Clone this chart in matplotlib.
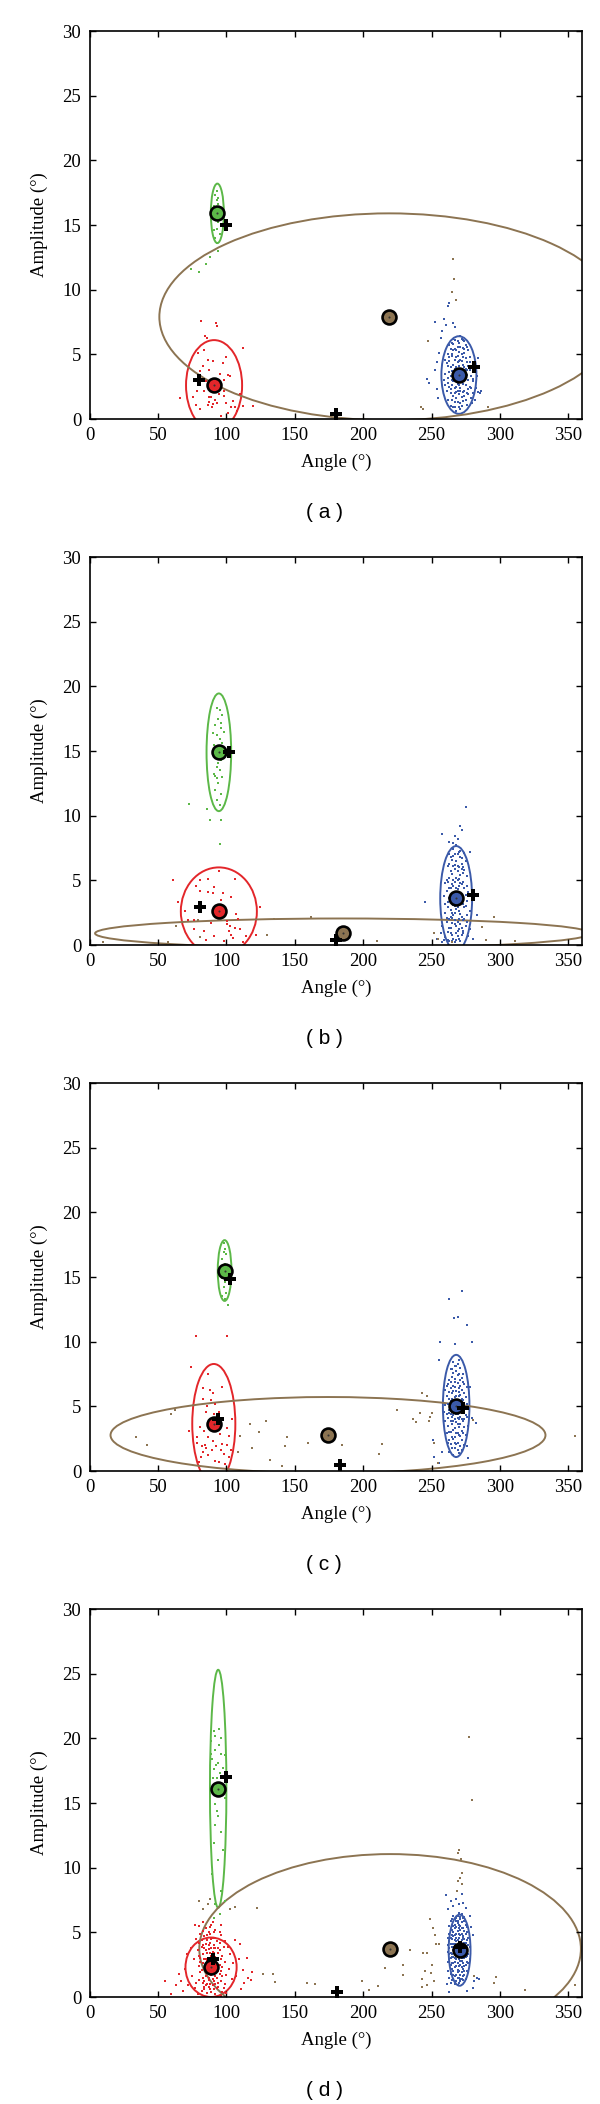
import numpy as np
import matplotlib.pyplot as plt
from matplotlib.patches import Ellipse

plt.rcParams['font.family'] = ['Liberation Serif', 'DejaVu Serif']

RED = '#e3262a'
GREEN = '#5cb848'
BLUE = '#3b5aa9'
BROWN = '#8c7452'
colors = [RED, GREEN, BLUE, BROWN]

# ---------------- panel (a) ----------------
a_centre_ang = [91, 93.4, 270, 219]
a_centre_amp = [2.6, 15.9, 3.4, 7.9]
a_ell_w = [41, 9.5, 25.6, 336]
a_ell_h = [7.0, 4.6, 6.0, 16.0]
a_plus_ang = [80, 100, 180, 281]
a_plus_amp = [3.0, 15.0, 0.4, 4.0]

a_red = [(81.4,7.6),(92.4,7.4),(84.6,6.4),(85.6,6.3),(93.4,7.2),(79,5.1),(112.1,5.5),(86.3,4.6),(90.5,4.5),
         (97.3,4.3),(83.1,4.1),(87.5,3.8),(101.4,3.4),(95.3,3.5),(98.3,3.0),(80.7,3.7),(85.1,2.9),(83.9,2.2),
         (87.1,1.7),(91.9,1.5),(94.6,1.9),(98.5,1.8),(66.1,1.6),(75.4,1.7),(77.8,1.1),(80.7,0.8),(89.3,0.95),
         (93.4,1.2),(103.4,0.9),(106.3,0.95),(112.4,1.0),(119.7,1.0),(101.4,0.45),(108,0.6),(86.3,1.1),(91.7,2.7),
         (78.3,2.2),(88.8,1.7),(95.3,2.35),(98.3,2.2),(87.6,1.3),(99.8,1.25),(104.6,1.4),(90.5,1.15),(95.3,2.8),
         (103,3.3),(100,4.8),(96,0.2),(110,1.9),(84,5.3)]
a_green = [(92,17.3),(93,16.9),(94,17.1),(91,16.5),(95,16.2),(92,15.5),(94,15.2),(93,14.7),(91,14.6),(95,14.3),
           (92,14.0),(94,16.6),(93,17.6),(96,15.0),(90,15.8),(93,13.6),(74.1,11.6),(79.7,11.4),(85.1,12.0),
           (88.3,12.5),(93.9,13.0)]
a_blue = [(270,3.4),(268,2.1),(272,4.5),(265,3.0),(275,2.6),(262,4.1),(278,3.8),(269,5.6),(271,1.2),(266,1.8),
          (274,5.1),(263,2.5),(277,1.9),(268,4.8),(273,3.2),(260,3.5),(280,3.1),(267,6.1),(271,0.8),(264,5.4),
          (276,4.4),(269,2.7),(272,1.7),(266,4.2),(274,6.0),(261,2.2),(279,2.4),(270,5.9),(268,0.6),(265,4.9),
          (275,3.9),(263,3.6),(277,5.3),(267,2.4),(273,1.4),(270,4.1),(262,1.5),(278,4.8),(266,5.8),(272,2.9),
          (269,3.8),(264,1.0),(276,1.1),(271,6.4),(259,3.0),(281,3.6),(268,3.2),(274,2.2),(265,2.6),(270,1.9),
          (267,3.9),(273,4.8),(262,5.0),(279,1.6),(269,4.4),(275,5.7),(263,4.5),(271,2.4),(266,0.9),(277,3.0),
          (268,5.3),(272,6.2),(264,3.3),(276,2.0),(270,2.6),(260,4.6),(280,4.3),(267,1.3),(273,5.5),(265,5.9),
          (252.5,7.5),(259,7.7),(260.6,7.3),(265.5,7.4),(267,7.1),(255.7,5.1),(254.2,4.4),(252.3,3.8),(246.9,3.1),
          (248.4,2.8),(253.7,2.3),(254.7,1.6),(280.5,2.9),(282.5,2.4),(284.2,2.1),(285.4,2.0),(286,2.2),
          (281.8,1.5),(279.4,1.2),(283.2,3.3),(262.2,8.7),(263,9.0),(258,6.8),(284,4.7),(257,6.3)]
a_blue_core = [(269,3.0),(271,3.9),(267,4.6),(273,2.7),(265,3.7),(275,4.7),(268,1.6),(272,5.0),(264,2.3),(276,3.4),
               (270,5.2),(266,2.9),(274,1.8),(262,3.2),(278,2.5),(269,6.0),(271,2.2),(267,0.9),(273,4.2),(265,5.0),
               (277,4.1),(268,3.6),(272,3.5),(263,4.8),(275,1.5),(270,0.9),(266,5.3),(274,3.0),(261,4.3),(279,3.3),
               (269,4.9),(271,5.6),(267,2.0),(273,6.1),(264,4.0),(276,5.6),(268,2.5),(272,1.0),(265,1.5),(270,4.5),
               (262,2.8),(278,4.4),(266,3.4),(274,4.0),(269,1.3),(271,4.6),(267,5.4),(273,2.1),(263,5.7),(277,2.3),
               (270,3.0),(268,4.0),(272,3.9),(264,2.0),(276,3.8),(266,6.2),(274,5.4),(260,2.6),(280,2.0),(269,2.2)]
a_brown = [(266,12.4),(266.5,10.8),(265,9.8),(268,9.2),(247.5,6.0),(243.8,0.75),(291.5,0.9),(242,0.9)]

# ---------------- panel (b) ----------------
b_centre_ang = [94.5, 94.5, 268, 185]
b_centre_amp = [2.6, 14.9, 3.6, 0.9]
b_ell_w = [55.6, 18, 23.3, 362]
b_ell_h = [6.8, 9.1, 8.1, 2.3]
b_plus_ang = [81, 102, 180, 280]
b_plus_amp = [2.9, 14.9, 0.4, 3.9]

b_red = [(61,5.0),(64.4,3.3),(80.7,5.0),(86.3,5.1),(94.8,5.7),(106,5.1),(72.3,1.9),(76.5,1.2),(83.5,1.1),
         (88.6,1.7),(90.6,0.7),(101.8,1.1),(103.2,0.8),(104.6,0.55),(110.2,1.2),(114.5,0.7),(121.5,0.8),
         (124.3,2.9),(80.7,4.2),(90.6,4.5),(97.6,4.0),(103.2,3.7),(83.5,2.9),(92,2.65),(100.5,1.85),(100.5,1.6),
         (102.7,1.5),(106,1.35),(76.5,1.9),(69.4,2.65),(96.2,3.45),(77.9,4.6),(86.3,4.1),(108.8,2.0),(90,4.0),
         (107.4,2.4),(98,0.3),(85,0.4),(112,0.2)]
b_green = [(93,18.3),(95,18.2),(97,17.8),(94,17.5),(92,17.0),(96,16.8),(98,16.5),(93,16.2),(95,15.9),(91,15.5),
           (97,15.6),(94,15.0),(92,14.5),(96,14.3),(93,13.8),(95,13.5),(91,13.2),(97,13.0),(94,12.5),(92,12.0),
           (96,11.7),(93,11.2),(95,10.8),(98,14.8),(90,16.4),(96,17.2),(92,13.1),(94,14.1),(97,15.1),(93,12.9),
           (73,10.9),(86,10.5),(88,9.7),(96,9.7),(95,7.8)]
b_blue = [(268,3.6),(265,2.1),(271,4.8),(262,1.0),(274,2.9),(267,6.2),(270,0.5),(264,4.4),(273,5.6),(260,2.5),
          (276,1.8),(266,3.1),(269,7.0),(263,0.3),(272,1.3),(259,3.8),(277,4.1),(268,5.2),(265,0.8),(271,2.4),
          (261,5.0),(275,6.5),(267,1.6),(270,3.9),(264,6.8),(273,0.9),(262,3.3),(278,2.6),(266,4.6),(269,1.1),
          (263,2.0),(272,5.9),(260,0.6),(276,3.4),(268,2.8),(265,5.5),(271,7.3),(258,1.5),(274,4.4),(267,0.2),
          (270,6.0),(264,2.7),(273,3.7),(261,4.2),(277,0.7),(266,7.4),(269,4.3),(262,6.1),(275,1.5),(268,0.9),
          (263,5.2),(272,2.2),(259,0.4),(276,5.3),(265,3.9),(271,0.3),(267,4.9),(270,2.0),(264,1.3),(274,7.1),
          (260,4.8),(278,1.2),(266,6.1),(269,5.7),(262,2.9),(273,1.9),(257,0.9),(275,3.0),(268,7.7),(265,1.7),
          (271,3.3),(263,7.0),(272,6.7),(267,2.5),(270,4.6),(261,1.8),(276,2.3),(258,0.2),(280,0.5),(264,3.5),
          (275,10.7),(271,9.2),(267,8.4),(258,8.6),(263,8.0),(278,7.2),(266,7.9),(245,3.3),(283,2.3),(254,0.5),
          (272,8.9),(269,8.2)]
b_blue_core = [(267,3.0),(269,4.0),(266,5.0),(270,2.6),(264,3.9),(272,4.7),(268,1.5),(265,6.6),(271,5.4),(263,1.3),
               (273,3.2),(267,7.0),(269,0.7),(266,2.3),(270,5.1),(262,4.9),(274,2.0),(268,4.4),(264,0.9),(272,6.3),
               (265,3.4),(271,1.6),(267,5.9),(269,2.9),(263,3.6),(273,4.9),(266,0.5),(270,7.2),(261,2.1),(275,3.9),
               (268,6.5),(264,5.7),(272,0.8),(267,4.1),(269,6.1),(265,2.5),(271,3.8),(263,6.3),(273,1.1),(266,4.0),
               (270,1.2),(262,0.4),(274,5.8),(268,3.1),(264,2.2),(272,3.4),(267,1.9),(269,5.0),(265,4.7),(271,6.8),
               (260,3.2),(276,4.6),(268,0.4),(266,6.9),(270,3.5),(263,4.4),(273,6.0),(267,3.7),(269,1.8),(265,0.3)]
b_brown = [(10,0.2),(57,0.2),(63,1.5),(79,1.9),(81,0.6),(130,0.8),(135,2.0),(162,2.2),(210,0.3),(252,0.9),
           (255,0.5),(287,1.4),(290,0.4),(296,2.2),(311,0.3),(265,0.2)]

# ---------------- panel (c) ----------------
c_centre_ang = [90.8, 98.7, 268, 174.3]
c_centre_amp = [3.65, 15.5, 5.03, 2.77]
c_ell_w = [31.5, 10, 19.4, 318]
c_ell_h = [9.25, 4.7, 7.9, 5.9]
c_plus_ang = [94, 103, 183, 273]
c_plus_amp = [4.0, 14.85, 0.5, 4.9]

c_red = [(77.8,10.4),(100.5,10.4),(73.9,8.05),(86.3,7.5),(82.7,6.4),(88,6.25),(90,6.0),(96.6,6.5),(88.5,5.5),
         (91.7,5.2),(85.1,4.6),(90.9,4.4),(94.8,4.6),(80.7,3.4),(83.6,3.1),(94.1,3.4),(100.2,3.3),(72.4,3.1),
         (78.3,2.6),(86.3,2.6),(90,2.3),(96.6,2.1),(101.9,2.7),(78.3,2.2),(81.9,1.9),(85.1,1.8),(92.4,1.9),
         (95.9,1.6),(98.3,1.35),(100.2,2.0),(103.2,1.6),(83.1,1.5),(86.8,1.2),(89.2,1.6),(84.4,2.0),(80.2,0.7),
         (81.2,1.1),(91.7,0.8),(94.8,0.7),(99.2,0.55),(101.7,1.1),(95.3,2.85),(104.3,4.0),(88,3.9),(92,3.6),
         (86,5.0),(97,4.1),(83,5.6)]
c_green = [(98,17.6),(99,17.2),(100,16.8),(97,16.4),(99,16.0),(98,15.7),(100,15.2),(97,14.9),(99,14.6),(98,14.2),
           (100,13.8),(97,13.5),(99,13.3),(98,16.9),(96,15.4),(101,15.8),(101,12.8)]
c_blue = [(268,5.0),(266,3.2),(270,6.4),(263,4.5),(272,2.4),(265,7.3),(269,1.6),(261,5.8),(274,4.0),(267,8.1),
          (271,3.6),(264,2.1),(273,6.9),(260,3.9),(276,5.2),(266,1.2),(269,4.4),(262,6.7),(275,2.8),(268,7.7),
          (265,4.9),(271,1.9),(263,3.0),(274,6.0),(267,2.6),(270,8.6),(264,5.4),(272,4.7),(259,4.6),(277,3.5),
          (266,6.2),(269,2.2),(261,2.9),(273,5.5),(268,3.8),(265,1.8),(271,7.0),(262,4.1),(276,6.5),(267,5.7),
          (270,1.4),(264,7.9),(272,3.1),(260,5.1),(275,4.3),(266,4.3),(269,6.8),(263,1.5),(274,2.0),(268,2.9),
          (265,6.0),(271,5.9),(262,3.5),(273,3.9),(267,7.1),(270,3.4),(264,3.9),(272,6.3),(261,6.6),(276,1.9),
          (266,8.4),(269,5.2),(263,5.6),(274,5.0),(268,1.1),(265,2.6),(271,4.2),(267,4.0),(270,7.5),(264,6.4),
          (272.5,13.9),(263,13.3),(266.4,11.8),(269.1,11.9),(275.7,11.3),(267.1,9.8),(256.2,10.0),(279.8,10.0),
          (255.6,8.6),(278.3,6.5),(279.6,4.1),(282.3,3.7),(251.3,2.4),(252,1.1),(255.4,0.6),(258,1.5),(277,1.0)]
c_blue_core = [(267,4.8),(269,5.5),(266,6.6),(270,4.0),(264,4.8),(272,5.6),(268,6.2),(265,3.6),(271,6.6),(263,6.1),
               (273,4.5),(267,3.3),(269,7.4),(266,2.5),(270,5.8),(262,5.2),(274,3.4),(268,4.4),(264,3.0),(272,7.2),
               (265,5.3),(271,2.7),(267,6.5),(269,3.6),(263,7.0),(273,2.9),(266,7.6),(270,2.8),(261,4.4),(275,5.7),
               (268,8.1),(264,6.9),(272,4.0),(267,1.8),(269,8.3),(265,7.9),(271,4.8),(263,2.4),(273,7.5),(266,5.1),
               (270,6.1),(262,2.2),(274,6.7),(268,5.8),(264,4.4),(272,1.6),(267,2.2),(269,2.9),(265,4.2),(271,8.0),
               (260,6.3),(276,4.2),(268,2.1),(266,3.9),(270,4.6),(263,4.7),(273,5.2),(267,6.9),(269,4.1),(265,5.6)]
c_brown = [(33.9,2.64),(41.7,2.0),(59.3,4.37),(62.4,4.75),(110.2,2.67),(108.7,1.48),(117.5,3.6),(119,1.79),
           (123.8,3.0),(129.2,3.9),(131.9,0.83),(140.4,0.37),(142.6,1.94),(144.6,2.6),(159.4,2.2),(184.3,2.0),
           (211.6,1.3),(213.8,2.08),(225,4.75),(236.7,4.0),(238.6,3.8),(241.6,4.5),(242.8,6.0),(246.4,5.8),
           (248.1,3.9),(248.9,4.2),(250.1,4.5),(251.8,2.2),(254.5,0.6),(280.5,3.95),(354.9,2.7)]

# ---------------- panel (d) ----------------
d_centre_ang = [88.8, 94, 270.5, 219.7]
d_centre_amp = [2.3, 16.1, 3.62, 3.72]
d_ell_w = [37.4, 12, 16, 279]
d_ell_h = [4.6, 18.4, 5.5, 14.66]
d_plus_ang = [90, 100, 181, 271]
d_plus_amp = [2.9, 17.0, 0.4, 3.9]

d_red = [(89,2.3),(85,1.6),(92,3.1),(80,2.4),(96,1.2),(87,4.0),(91,0.6),(83,3.3),(94,2.0),(78,1.1),(99,2.7),
         (86,2.8),(90,4.6),(82,0.5),(95,3.6),(88,1.0),(93,4.3),(81,1.9),(97,0.4),(84,4.7),(91,1.8),(76,2.9),
         (100,1.7),(87,2.1),(92,5.2),(79,3.6),(95,2.5),(86,0.3),(98,3.9),(83,2.6),(90,1.4),(94,0.8),(80,4.2),
         (88,3.4),(102,2.2),(85,5.3),(91,2.9),(77,0.7),(96,4.8),(84,1.2),(89,5.6),(93,1.5),(81,3.0),(99,1.0),
         (87,3.7),(75,1.6),(92,0.2),(86,4.4),(97,3.2),(82,2.1),(90,3.0),(95,5.0),(79,0.2),(103,3.3),(88,4.9),
         (84,3.8),(94,2.9),(80,1.3),(91,4.0),(86,1.9),(98,0.7),(83,5.1),(89,0.4),(96,2.0),(78,4.5),(92,3.8),
         (85,2.9),(101,3.9),(87,0.8),(93,2.4),(82,3.9),(90,5.8),(97,1.6),(84,0.6),(95,4.2),(88,2.7),(74,3.8),
         (104,1.4),(86,3.4),(91,3.4),(80,5.5),(99,4.3),(87,1.3),(94,3.4),(83,1.5),(92,1.0),(89,3.8),(85,0.9),
         (96,0.1),(81,4.9),(105,2.6),(88,5.4),(54.8,1.2),(59.6,0.2),(65.2,1.8),(66.5,1.2),(68,0.5),(70,2.2),
         (72,0.9),(71,3.3),(107,1.6),(109,2.9),(111,0.6),(112,2.1),(113,1.1),(115,3.0),(116,1.5),(118,1.3),
         (119,1.9),(110,4.1),(77,5.6),(83,5.8),(96,5.6),(106,4.4),(63,0.9),(100,0.3)]
d_red_core = [(88,2.0),(90,2.6),(86,2.4),(92,2.2),(84,2.9),(89,3.2),(87,1.5),(91,1.2),(85,3.6),(93,3.0),
              (88,4.2),(90,0.9),(83,1.1),(95,1.8),(86,4.8),(89,1.7),(92,4.6),(81,2.7),(94,3.8),(87,2.6),
              (90,3.5),(84,0.8),(96,2.9),(88,0.6),(91,5.0),(85,2.0),(93,0.7),(82,4.4),(89,4.5),(86,1.0),
              (97,2.3),(80,3.2),(92,1.6),(87,5.0),(94,1.1),(83,4.0),(90,2.1),(88,3.0),(85,4.1),(91,3.8)]
d_green = [(90.6,20.6),(94.3,20.7),(96.2,20.0),(88.6,19.8),(92,19.1),(96.2,18.8),(89.7,18.4),(94.2,18.1),
           (97.5,17.7),(91,17.6),(92.8,16.9),(97,16.5),(89.2,16.25),(92,14.9),(93.7,14.0),(96.2,12.75),(90.8,11.9),
           (94.2,10.6),(89.7,9.5),(96.2,8.2),(92,7.2),(92,20.2),(94.9,19.5),(88.6,18.8),(98.9,18.7),(92.5,17.9),
           (95.4,17.3),(90.5,16.9),(98.9,15.4),(92,13.3),(97.5,11.4),(93.4,14.4),(95,6.4),(91,6.1),(99,7.4)]
d_blue = [(270,3.6),(268,2.4),(273,4.7),(265,3.1),(276,2.0),(267,5.6),(271,1.2),(263,4.3),(274,5.9),(269,0.9),
          (272,3.0),(264,1.8),(277,4.0),(266,6.3),(270,2.0),(262,2.7),(275,3.5),(268,4.9),(273,1.6),(265,5.2),
          (271,6.0),(267,1.0),(278,2.9),(263,3.8),(269,4.4),(274,2.4),(266,1.4),(272,5.3),(264,5.9),(270,4.9),
          (276,5.0),(268,3.3),(262,4.6),(273,3.9),(265,2.2),(271,2.8),(267,4.1),(275,1.4),(269,5.7),(263,1.5),
          (272,6.4),(266,3.6),(277,3.3),(270,1.5),(264,3.4),(274,4.5),(268,6.1),(271,4.2),(265,4.5),(273,2.6),
          (267,2.7),(262,3.5),(276,4.4),(269,2.6),(272,1.9),(266,5.0),(270,5.6),(264,2.5),(275,5.6),(268,1.2),
          (263,5.5),(271,3.5),(278,3.9),(267,3.4),(273,5.3),(265,1.3),(269,3.1),(274,1.7),(266,2.6),(272,4.4),
          (270,6.5),(264,4.1),(276,2.7),(268,4.6),(262,2.0),(271,5.2),(267,6.0),(273,3.2),(265,3.9),(269,1.9),
          (275,4.9),(263,2.9),(270,2.9),(272,2.3),(266,4.7),(274,3.6),(268,5.4),(264,1.1),(277,1.9),(271,1.7),
          (267,5.3),(273,6.1),(265,6.0),(269,6.3),(262,4.0),(276,3.2),(270,4.2),(266,2.0),(272,3.8),(274,6.2),
          (260.7,7.9),(262,6.8),(264,7.4),(266,7.0),(268,7.6),(273,7.3),(275,6.9),(278,6.3),(279,5.4),(280,4.8),
          (281,1.2),(283,1.5),(285,1.4),(261,1.0),(263,0.4),(276,0.5),(280,0.7),(272,8.0),(270,7.2)]
d_blue_core = [(269,3.3),(271,3.9),(268,4.3),(272,2.8),(266,3.9),(274,3.0),(270,4.6),(267,2.3),(273,4.1),(265,4.8),
               (275,2.5),(269,5.1),(271,2.5),(268,1.7),(272,5.8),(264,3.0),(276,3.7),(270,1.1),(266,5.5),(274,5.1),
               (269,2.1),(271,4.8),(267,4.4),(273,1.3),(265,3.3),(275,4.2),(268,5.9),(272,1.4),(264,5.2),(270,3.3),
               (266,1.7),(277,2.6),(269,4.0),(271,6.2),(267,3.0),(273,4.6),(263,3.3),(276,5.4),(268,2.9),(272,4.9),
               (265,2.6),(270,5.3),(266,4.1),(274,2.0),(269,5.9),(271,1.4),(267,1.6),(273,2.2),(264,4.6),(275,3.1),
               (268,3.8),(272,3.3),(266,3.1),(270,2.4),(263,4.9),(277,4.6),(269,1.5),(271,5.5),(267,4.8),(274,4.2)]
d_brown = [(83,6.8),(86.4,7.2),(102.7,6.8),(106.6,6.95),(122.3,6.9),(126.5,1.8),(134.1,1.75),(135.5,1.16),
           (158.9,1.08),(164.5,1.02),(198.8,1.24),(204.4,0.54),(210.6,0.84),(216.2,2.24),(229.2,2.45),(234,3.6),
           (229.2,1.7),(243.8,3.4),(246.6,3.4),(248.6,6.0),(250.8,5.3),(252.2,4.8),(253.1,4.07),(255.1,4.12),
           (243,1.43),(246.6,0.9),(249.4,1.83),(251.6,1.24),(243.2,0.75),(269.2,11.1),(270,11.4),(271.3,10.7),
           (270.8,9.2),(269.2,8.98),(272,8.7),(268.6,8.2),(277.6,20.1),(279.8,15.2),(297.3,1.56),(296,1.08),
           (318.3,0.54),(354.7,0.94),(281.2,1.6),(80,7.4),(88,7.6),(250,2.5),(245,2.0),(272,9.6)]

panels = [
    ('a', [a_red, a_green, a_blue + a_blue_core, a_brown],
     a_centre_ang, a_centre_amp, a_ell_w, a_ell_h, a_plus_ang, a_plus_amp),
    ('b', [b_red, b_green, b_blue + b_blue_core, b_brown],
     b_centre_ang, b_centre_amp, b_ell_w, b_ell_h, b_plus_ang, b_plus_amp),
    ('c', [c_red, c_green, c_blue + c_blue_core, c_brown],
     c_centre_ang, c_centre_amp, c_ell_w, c_ell_h, c_plus_ang, c_plus_amp),
    ('d', [d_red + d_red_core, d_green, d_blue + d_blue_core, d_brown],
     d_centre_ang, d_centre_amp, d_ell_w, d_ell_h, d_plus_ang, d_plus_amp),
]

W, H = 600, 2104
fig = plt.figure(figsize=(W / 100, H / 100), dpi=100)

tops = [31, 557, 1083, 1609]
for top, (tag, pts, cx, cy, ew, eh, px, py) in zip(tops, panels):
    ax = fig.add_axes([89.6 / W, 1 - (top + 388) / H, 492.4 / W, 388 / H])

    # sample points
    for p, col in zip(pts, colors):
        p = np.array(p)
        ax.plot(p[:, 0], p[:, 1], 's', ms=1.9, mew=0, color=col)

    # ellipses
    for i, col in enumerate(colors):
        ax.add_patch(Ellipse((cx[i], cy[i]), ew[i], eh[i], fill=False, ec=col, lw=1.4))

    # cluster centres
    for i, col in enumerate(colors):
        ax.plot(cx[i], cy[i], 'o', ms=10, mfc=col, mec='k', mew=1.9)
        ax.plot(cx[i], cy[i], 'o', ms=1.5, color='#333333', mew=0)

    # reference positions
    ax.plot(px, py, 'P', ms=9, color='k', mew=0)

    ax.set_xlim(0, 360)
    ax.set_ylim(0, 30)
    ax.set_xticks(range(0, 351, 50))
    ax.set_yticks(range(0, 31, 5))
    ax.tick_params(direction='in', length=4, width=1, top=True, right=True,
                   labelsize=13.5, pad=6)
    for s in ax.spines.values():
        s.set_linewidth(1.2)
    ax.set_xlabel('Angle (°)', fontsize=13.5)
    ax.set_ylabel('Amplitude (°)', fontsize=13.5)
    ax.xaxis.set_label_coords(0.5, -0.09)
    ax.yaxis.set_label_coords(-0.085, 0.5)

    fig.text(324 / W, 1 - (top + 482) / H, '( %s )' % tag, family='Liberation Sans',
             fontsize=15, ha='center', va='center')

fig.savefig('out.png', dpi=100)
